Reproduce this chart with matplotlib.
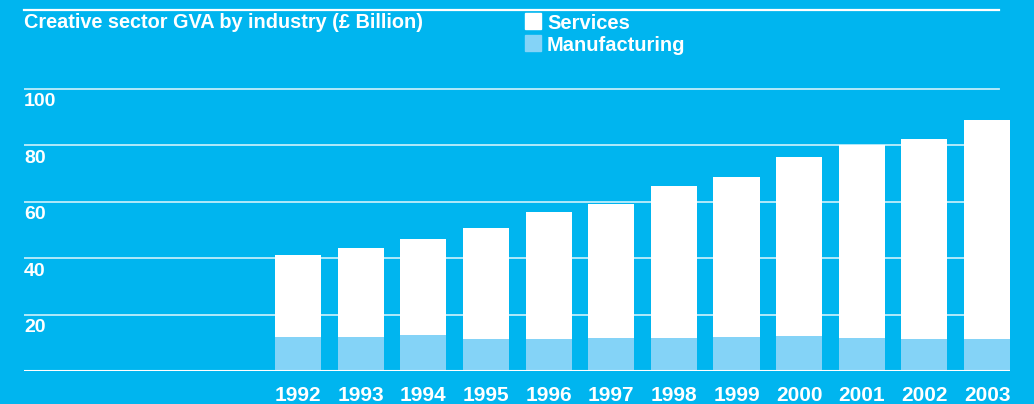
import matplotlib
matplotlib.use("Agg")
import matplotlib.pyplot as plt
import matplotlib.transforms as mtransforms
from matplotlib.patches import Rectangle
import numpy as np

# Creative sector GVA, £ billion
years = ['1992', '1993', '1994', '1995', '1996', '1997',
         '1998', '1999', '2000', '2001', '2002', '2003']
manufacturing = [12.2, 12.1, 12.8, 11.4, 11.4, 11.8, 11.8, 12.1, 12.5, 11.8, 11.4, 11.4]
total = [41.2, 43.6, 46.8, 50.6, 56.4, 59.2, 65.6, 68.8, 75.8, 80.0, 82.2, 88.9]
services = [t - m for t, m in zip(total, manufacturing)]
yticks = [20, 40, 60, 80, 100]

bg = '#00B5EF'
light = '#84D3F7'
W, H = 1034, 404

plt.rcParams['font.family'] = ['Liberation Sans', 'DejaVu Sans']
plt.rcParams['font.weight'] = 'bold'

fig = plt.figure(figsize=(W / 100, H / 100), dpi=100, facecolor=bg)
# axes box in pixels: left 24, right 1010, baseline at 371.3, top rule at 10
ax = fig.add_axes([24 / W, (H - 371.3) / H, (1010 - 24) / W, (371.3 - 10) / H])
ax.set_facecolor(bg)
for s in ax.spines.values():
    s.set_visible(False)

x = np.arange(len(years))
ax.set_xlim(-4.377, 11.367)
ax.set_ylim(0, 127.85)

grid_end = (999 - 24) / (1010 - 24)
for v in yticks:
    ax.axhline(v, xmin=0, xmax=grid_end, color='white', lw=1.3, alpha=0.75, zorder=1)
ax.axhline(127.85, xmin=0, xmax=grid_end, color='white', lw=1.6, clip_on=False, zorder=1)
ax.axhline(0, color='white', lw=1.5, zorder=3)

ax.bar(x, manufacturing, width=0.735, color=light, zorder=2)
ax.bar(x, services, bottom=manufacturing, width=0.735, color='white', zorder=2)

ax.set_xticks([])
ax.set_yticks([])

# y labels sit just under their gridlines at the left edge
lab_tf = mtransforms.blended_transform_factory(ax.transAxes, ax.transData)
off = mtransforms.ScaledTranslation(0, -4.5 / 100, fig.dpi_scale_trans)
for v in yticks:
    ax.text(0, v, str(v), transform=lab_tf + off, color='white', fontsize=14,
            fontweight='bold', ha='left', va='top')

# year labels under the bars
yr_tf = mtransforms.blended_transform_factory(ax.transData, ax.transAxes)
yoff = mtransforms.ScaledTranslation(0, -30 / 100, fig.dpi_scale_trans)
for xi, yr in zip(x, years):
    ax.text(xi, 0, yr, transform=yr_tf + yoff, color='white', fontsize=15,
            fontweight='bold', ha='center', va='baseline')

fig.text(24 / W, 1 - 28.5 / H, 'Creative sector GVA by industry (£ Billion)',
         color='white', fontsize=14.3, fontweight='bold', ha='left', va='baseline')

# legend
for i, (name, col) in enumerate([('Services', 'white'), ('Manufacturing', light)]):
    top = 13 + 22 * i
    fig.patches.append(Rectangle((525 / W, 1 - (top + 16) / H), 16 / W, 16 / H,
                                 transform=fig.transFigure, color=col))
    fig.text(547 / W, 1 - (top + 16.3) / H, name, color='white', fontsize=14.5,
             fontweight='bold', ha='left', va='baseline')

fig.savefig('out.png', dpi=100, facecolor=bg)
